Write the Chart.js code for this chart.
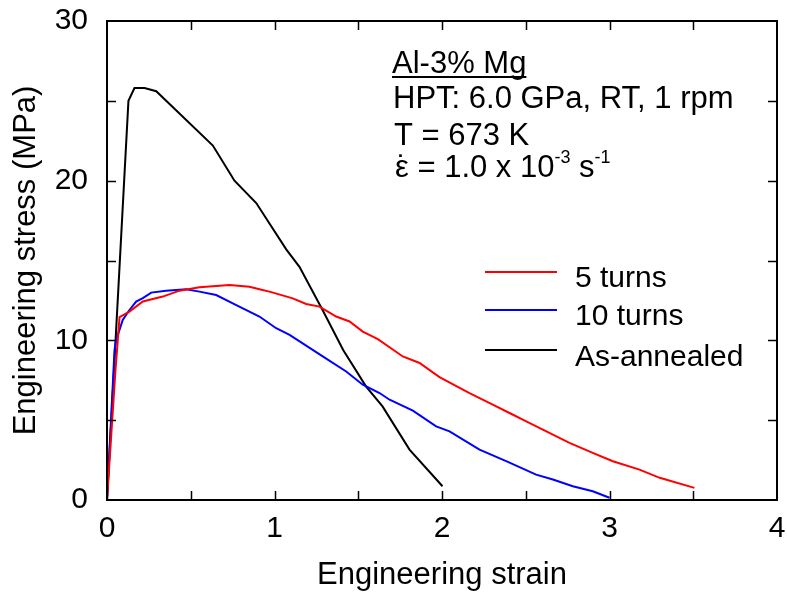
<!DOCTYPE html>
<html>
<head>
<meta charset="utf-8">
<script src="https://cdn.jsdelivr.net/npm/chart.js@4.4.1/dist/chart.umd.min.js"></script>
<style>
  html,body{ margin:0; padding:0; background:#fff; }
  #wrap{ width:787px; height:601px; }
</style>
</head>
<body>
<div id="wrap"><canvas id="c" width="787" height="601"></canvas></div>
<script>
// valores
const seriesNames = ['5 turns', '10 turns', 'As-annealed'];
const seriesColors = ['#ff0000', '#0000ff', '#000000'];

const turns5Strain = [0, 0.051, 0.075, 0.134, 0.214, 0.333, 0.433, 0.552, 0.731, 0.851, 0.91, 0.97, 1.109, 1.189, 1.269, 1.368, 1.448, 1.527, 1.617, 1.766, 1.866, 1.985, 2.164, 2.303, 2.403, 2.503, 2.602, 2.761, 2.9, 3.02, 3.179, 3.3, 3.507];
const turns5Stress = [0, 8.2, 11.46, 11.8, 12.43, 12.74, 13.11, 13.32, 13.47, 13.36, 13.2, 13.05, 12.63, 12.28, 12.11, 11.49, 11.18, 10.55, 10.08, 8.99, 8.58, 7.7, 6.7, 5.97, 5.45, 4.93, 4.41, 3.58, 2.95, 2.43, 1.9, 1.39, 0.76];

const turns10Strain = [0, 0.045, 0.055, 0.094, 0.134, 0.174, 0.214, 0.264, 0.353, 0.473, 0.552, 0.652, 0.751, 0.91, 1.01, 1.09, 1.288, 1.428, 1.527, 1.627, 1.687, 1.826, 1.965, 2.045, 2.224, 2.383, 2.562, 2.662, 2.781, 2.9, 3.0];
const turns10Stress = [0, 9.4, 10.03, 11.28, 11.9, 12.43, 12.64, 12.99, 13.11, 13.2, 13.05, 12.84, 12.32, 11.49, 10.76, 10.34, 8.99, 8.05, 7.22, 6.7, 6.28, 5.6, 4.61, 4.3, 3.16, 2.43, 1.59, 1.28, 0.86, 0.55, 0.14];

const annealedStrain = [0, 0.128, 0.164, 0.224, 0.294, 0.632, 0.761, 0.891, 1.07, 1.149, 1.287, 1.41, 1.547, 1.645, 1.806, 2.003];
const annealedStress = [0, 25.0, 25.8, 25.8, 25.6, 22.2, 20.0, 18.6, 15.7, 14.6, 11.9, 9.4, 7.1, 5.86, 3.16, 0.86];

const xTicks = [0, 1, 2, 3, 4];
const yTicks = [0, 10, 20, 30];

const FONT = 'Arial, "Liberation Sans", sans-serif';

function pts(xs, ys){ return xs.map((x,i)=>({ x, y: ys[i] })); }

// marco, ticks hacia adentro, leyenda y textos
const decor = {
  id: 'decor',
  afterDatasetsDraw(chart){
    const ctx = chart.ctx, a = chart.chartArea;
    const sx = chart.scales.x, sy = chart.scales.y;
    ctx.save();
    ctx.strokeStyle = '#000'; ctx.lineWidth = 2;
    ctx.strokeRect(a.left, a.top, a.right - a.left, a.bottom - a.top);
    ctx.lineWidth = 1.5;
    const L = 9;
    ctx.beginPath();
    for (let v = 0.5; v < 4; v += 0.5){
      const p = Math.round(sx.getPixelForValue(v)) + 0.5;
      ctx.moveTo(p, a.bottom); ctx.lineTo(p, a.bottom - L);
      ctx.moveTo(p, a.top); ctx.lineTo(p, a.top + L);
    }
    for (let v = 5; v < 30; v += 5){
      const p = Math.round(sy.getPixelForValue(v)) + 0.5;
      ctx.moveTo(a.left, p); ctx.lineTo(a.left + L, p);
      ctx.moveTo(a.right, p); ctx.lineTo(a.right - L, p);
    }
    ctx.stroke();

    // leyenda
    ctx.font = '30px ' + FONT;
    ctx.fillStyle = '#000';
    ctx.textBaseline = 'alphabetic';
    const ly = [272, 310, 350];
    const lb = [287, 325, 366];
    chart.data.datasets.forEach((d,i)=>{
      ctx.strokeStyle = d.borderColor; ctx.lineWidth = 2;
      ctx.beginPath(); ctx.moveTo(485, ly[i]); ctx.lineTo(557, ly[i]); ctx.stroke();
      ctx.fillText(d.label, 575, lb[i]);
    });

    // anotacion
    ctx.font = '31px ' + FONT;
    ctx.fillText('Al-3% Mg', 392, 73);
    const w = ctx.measureText('Al-3% Mg').width;
    ctx.strokeStyle = '#000'; ctx.lineWidth = 2;
    ctx.beginPath(); ctx.moveTo(392, 77); ctx.lineTo(392 + w, 77); ctx.stroke();
    ctx.fillText('HPT: 6.0 GPa, RT, 1 rpm', 393, 108);
    ctx.fillText('T = 673 K', 394, 145);
    let x = 395;
    const ew = ctx.measureText('\u03b5').width;
    ctx.textAlign = 'center';
    ctx.fillText('\u02d9', x + ew / 2, 177);
    ctx.textAlign = 'left';
    const parts = [['\u03b5 = 1.0 x 10', 0], ['-3', 1], [' s', 0], ['-1', 1]];
    parts.forEach(([t, sup])=>{
      ctx.font = (sup ? '18px ' : '31px ') + FONT;
      ctx.fillText(t, x, sup ? 163 : 177);
      x += ctx.measureText(t).width;
    });
    ctx.restore();
  }
};

new Chart(document.getElementById('c'), {
  type: 'scatter',
  data: {
    datasets: [
      { label: seriesNames[0], data: pts(turns5Strain, turns5Stress), borderColor: seriesColors[0] },
      { label: seriesNames[1], data: pts(turns10Strain, turns10Stress), borderColor: seriesColors[1] },
      { label: seriesNames[2], data: pts(annealedStrain, annealedStress), borderColor: seriesColors[2] }
    ].map(d => Object.assign(d, { showLine: true, pointRadius: 0, borderWidth: 2, tension: 0, fill: false }))
  },
  options: {
    responsive: false,
    animation: false,
    events: [],
    layout: { padding: { top: 21, right: 10, left: 0, bottom: 0 } },
    plugins: { legend: { display: false }, tooltip: { enabled: false } },
    scales: {
      x: {
        type: 'linear', min: 0, max: 4,
        afterBuildTicks: s => { s.ticks = xTicks.map(v => ({ value: v })); },
        afterFit: s => { s.height = 101; s.paddingLeft = 0; s.paddingRight = 0; },
        grid: { display: false, drawTicks: false },
        border: { display: false },
        ticks: { color: '#000', font: { family: FONT, size: 30 }, padding: 11, maxRotation: 0 },
        title: { display: true, text: 'Engineering strain', color: '#000', font: { family: FONT, size: 31 }, padding: { top: 0, bottom: 7 } }
      },
      y: {
        type: 'linear', min: 0, max: 30,
        afterBuildTicks: s => { s.ticks = yTicks.map(v => ({ value: v })); },
        afterFit: s => { s.width = 107; s.paddingTop = 0; s.paddingBottom = 0; },
        grid: { display: false, drawTicks: false },
        border: { display: false },
        ticks: { color: '#000', font: { family: FONT, size: 30 }, padding: 19 },
        title: { display: true, text: 'Engineering stress (MPa)', color: '#000', font: { family: FONT, size: 31 }, padding: { top: 8, bottom: 0 } }
      }
    }
  },
  plugins: [decor]
});
</script>
</body>
</html>
